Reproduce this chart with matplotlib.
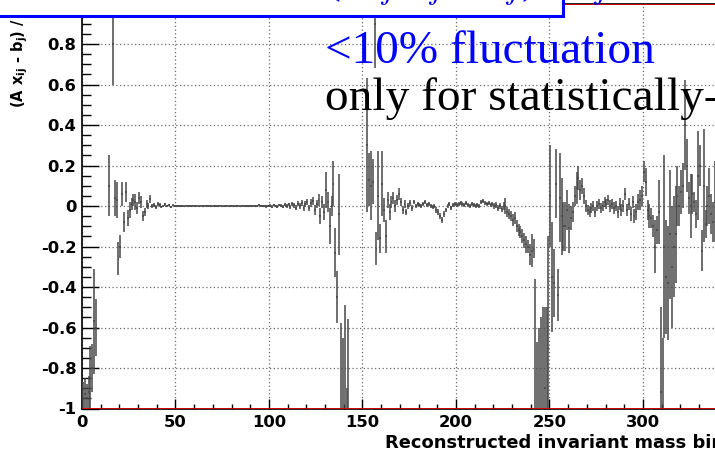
import numpy as np
import matplotlib
matplotlib.use("Agg")
import matplotlib.pyplot as plt
from matplotlib.patches import Rectangle
from matplotlib.ticker import MultipleLocator, FuncFormatter

nan = float("nan")

# (A x - b) residual for every reconstructed mass bin
residuals = [
    -0.95, -0.93, -0.95, -0.92, -0.85, -0.80, -0.57, -0.60, nan, nan,          # 0
    nan, nan, nan, nan, 0.10, nan, 0.80, 0.04, 0.03, -0.26,                    # 10
    -0.20, 0.06, -0.08, 0.07, -0.06, -0.02, 0.01, 0.03, 0.02, -0.01,           # 20
    0.04, 0.02, -0.05, -0.03, 0.01, 0.00, 0.035, 0.00, 0.005, -0.005,          # 30
    0.010, 0.005, -0.005, 0.000, 0.008, 0.000, 0.006, -0.004, 0.003, 0.000,    # 40
    0.002, -0.001, 0.001, 0.000, -0.002, 0.001, 0.002, 0.000, -0.001, 0.001,   # 50
    0.000, 0.001, -0.001, 0.002, 0.000, -0.002, 0.001, 0.000, 0.001, -0.001,   # 60
    0.001, 0.000, -0.002, 0.001, 0.002, -0.001, 0.000, 0.001, -0.001, 0.000,   # 70
    0.002, -0.001, 0.000, 0.001, -0.002, 0.000, 0.002, -0.001, 0.001, 0.000,   # 80
    -0.001, 0.002, 0.000, -0.002, 0.003, 0.000, -0.001, 0.002, -0.002, 0.001,  # 90
    0.002, -0.003, 0.004, 0.000, -0.004, 0.005, 0.002, -0.003, 0.006, 0.001,   # 100
    0.008, -0.004, 0.010, 0.003, -0.008, 0.012, 0.000, 0.015, -0.010, 0.008,   # 110
    0.020, -0.012, 0.015, 0.025, -0.020, 0.010, 0.030, -0.050, 0.020, -0.030,  # 120
    0.08, 0.02, -0.10, 0.00, 0.11, -0.23, -0.45, -0.04, -1.30, -1.15,          # 130
    -1.20, -1.30, -1.25, nan, nan, nan, nan, nan, nan, nan,                    # 140
    nan, nan, 0.30, 0.13, 0.10, 0.12, 0.90, -0.21, 0.05, -0.16,                # 150
    0.11, -0.02, -0.15, 0.03, -0.03, 0.02, 0.04, 0.00, 0.03, 0.06,             # 160
    0.02, -0.02, 0.01, -0.03, 0.00, 0.015, -0.01, 0.02, 0.00, 0.01,            # 170
    0.005, 0.000, 0.010, 0.020, 0.005, 0.010, 0.000, -0.005, 0.000, -0.020,    # 180
    -0.03, -0.05, -0.07, -0.04, -0.02, 0.00, 0.01, -0.01, 0.005, 0.01,         # 190
    0.005, 0.010, 0.015, 0.010, 0.005, 0.015, 0.005, 0.000, 0.010, 0.005,      # 200
    0.000, 0.005, 0.000, 0.020, 0.025, 0.015, 0.010, 0.015, 0.005, 0.010,      # 210
    0.000, 0.005, -0.010, 0.000, -0.015, 0.000, 0.000, -0.030, -0.040, -0.050, # 220
    -0.07, -0.06, -0.10, -0.12, -0.13, -0.15, -0.17, -0.19, -0.20, -0.24,      # 230
    -0.22, -0.21, -1.20, -1.30, -1.20, -1.25, -1.10, -0.90, -1.00, -0.70,      # 240
    0.05, -0.35, -0.38, 0.11, -0.44, 0.04, -0.05, -0.10, -0.10, -0.02,         # 250
    -0.11, -0.06, -0.03, 0.05, 0.09, 0.14, 0.08, 0.10, 0.05, 0.00,             # 260
    -0.02, -0.03, -0.01, 0.00, -0.03, 0.00, 0.01, -0.01, 0.00, 0.02,           # 270
    0.01, 0.03, 0.00, 0.01, -0.01, 0.00, -0.03, 0.01, -0.02, 0.00,             # 280
    0.06, -0.02, 0.01, -0.04, 0.02, -0.05, -0.03, 0.02, 0.03, 0.05,            # 290
    0.17, 0.12, -0.02, -0.05, -0.06, -0.10, -0.20, -0.12, -0.03, -0.92,        # 300
    -1.15, -0.20, -0.35, -0.38, -0.14, -0.30, -0.20, -0.14, 0.05, 0.00,        # 310
    0.07, 0.10, 0.40, 0.20, 0.04, 0.00, 0.06, 0.02, -0.04, 0.15,               # 320
    0.20, -0.22, 0.10, -0.09, 0.00, 0.05, -0.04, -0.08, 0.02,                  # 330
]

errors = [
    0.08, 0.08, 0.07, 0.08, 0.16, 0.12, 0.26, 0.14, nan, nan,
    nan, nan, nan, nan, 0.15, nan, 0.20, 0.09, 0.09, 0.08,
    0.055, 0.06, 0.05, 0.05, 0.04, 0.04, 0.03, 0.03, 0.04, 0.03,
    0.03, 0.03, 0.025, 0.02, 0.02, 0.015, 0.02, 0.012, 0.01, 0.01,
    0.008, 0.008, 0.007, 0.006, 0.006, 0.005, 0.005, 0.005, 0.004, 0.004,
    0.004, 0.004, 0.004, 0.003, 0.003, 0.003, 0.003, 0.003, 0.003, 0.003,
    0.003, 0.003, 0.003, 0.003, 0.003, 0.003, 0.003, 0.003, 0.003, 0.003,
    0.003, 0.003, 0.003, 0.003, 0.003, 0.003, 0.003, 0.003, 0.003, 0.003,
    0.003, 0.003, 0.003, 0.003, 0.004, 0.004, 0.004, 0.004, 0.004, 0.004,
    0.004, 0.004, 0.005, 0.005, 0.005, 0.005, 0.005, 0.005, 0.006, 0.006,
    0.006, 0.006, 0.006, 0.007, 0.007, 0.007, 0.008, 0.008, 0.008, 0.009,
    0.009, 0.010, 0.010, 0.011, 0.012, 0.012, 0.013, 0.014, 0.015, 0.015,
    0.015, 0.015, 0.020, 0.020, 0.025, 0.020, 0.030, 0.040, 0.030, 0.040,
    0.09, 0.05, 0.09, 0.05, 0.11, 0.12, 0.13, 0.20, 0.72, 0.50,
    0.71, 0.40, 0.69, nan, nan, nan, nan, nan, nan, nan,
    nan, nan, 0.33, 0.13, 0.17, 0.11, 0.22, 0.08, 0.22, 0.07,
    0.16, 0.06, 0.08, 0.04, 0.04, 0.03, 0.03, 0.03, 0.025, 0.03,
    0.02, 0.02, 0.02, 0.015, 0.015, 0.015, 0.015, 0.012, 0.012, 0.012,
    0.012, 0.012, 0.012, 0.012, 0.012, 0.012, 0.012, 0.012, 0.012, 0.015,
    0.015, 0.015, 0.015, 0.015, 0.012, 0.012, 0.012, 0.012, 0.012, 0.012,
    0.010, 0.010, 0.010, 0.010, 0.010, 0.010, 0.010, 0.010, 0.010, 0.010,
    0.012, 0.012, 0.012, 0.012, 0.012, 0.012, 0.012, 0.012, 0.012, 0.012,
    0.015, 0.015, 0.015, 0.015, 0.015, 0.02, 0.04, 0.025, 0.025, 0.025,
    0.03, 0.03, 0.03, 0.03, 0.03, 0.035, 0.035, 0.04, 0.03, 0.05,
    0.08, 0.045, 0.84, 0.63, 0.60, 0.70, 0.60, 0.40, 0.50, 0.55,
    0.25, 0.27, 0.17, 0.17, 0.13, 0.22, 0.19, 0.12, 0.12, 0.10,
    0.12, 0.06, 0.05, 0.05, 0.08, 0.06, 0.05, 0.04, 0.04, 0.03,
    0.025, 0.025, 0.025, 0.025, 0.025, 0.025, 0.025, 0.025, 0.025, 0.025,
    0.025, 0.025, 0.03, 0.025, 0.03, 0.025, 0.03, 0.03, 0.03, 0.03,
    0.03, 0.03, 0.03, 0.035, 0.03, 0.035, 0.04, 0.04, 0.05, 0.05,
    0.05, 0.07, 0.05, 0.06, 0.05, 0.055, 0.13, 0.07, 0.16, 0.42,
    0.50, 0.45, 0.28, 0.28, 0.32, 0.30, 0.25, 0.24, 0.15, 0.10,
    0.11, 0.11, 0.22, 0.13, 0.08, 0.16, 0.10, 0.05, 0.07, 0.22,
    0.10, 0.10, 0.28, 0.07, 0.10, 0.14, 0.10, 0.10, 0.20,
]

x_ticks = [0, 50, 100, 150, 200, 250, 300]
y_ticks = [-1, -0.8, -0.6, -0.4, -0.2, 0, 0.2, 0.4, 0.6, 0.8]

W, H = 715, 455
SANS = "DejaVu Sans"
SERIF = "Liberation Serif"
LABEL_SIZE = 11.8

plt.rcParams["font.family"] = SANS
plt.rcParams["axes.unicode_minus"] = False
plt.rcParams["mathtext.fontset"] = "custom"
plt.rcParams["mathtext.rm"] = "DejaVu Sans:bold"
plt.rcParams["mathtext.it"] = "DejaVu Sans:bold"
plt.rcParams["mathtext.bf"] = "DejaVu Sans:bold"


def fx(px):
    return px / W


def fy(py):
    return 1 - py / H


fig = plt.figure(figsize=(W / 100, H / 100), dpi=100)
ax = fig.add_axes([fx(82), fy(408.5), 1 - fx(82), (408.5 - 3.5) / H])

centers = np.arange(len(residuals)) + 0.5
ax.errorbar(centers, residuals, yerr=errors, xerr=0.5, fmt="none",
            ecolor="#474747", elinewidth=1.1, zorder=3)

ax.axhline(-1, color="#e00000", lw=1.3, zorder=4)
ax.axhline(1, color="#e00000", lw=1.3, zorder=4)

ax.set_xlim(0, (W - 82) / 1.8697)
ax.set_ylim(-1, 1)
ax.set_xticks(x_ticks)
ax.set_yticks(y_ticks)
ax.xaxis.set_minor_locator(MultipleLocator(10))
ax.yaxis.set_minor_locator(MultipleLocator(0.05))
ax.yaxis.set_major_formatter(FuncFormatter(lambda v, p: "%g" % round(v, 2)))
ax.grid(True, which="major", color="#6a6a6a", linestyle=(0, (1, 2)), lw=0.9)

ax.tick_params(axis="y", which="major", direction="in", length=12, width=1, pad=4)
ax.tick_params(axis="y", which="minor", direction="in", length=6.5, width=1)
ax.tick_params(axis="x", which="major", direction="in", length=7, width=1, pad=5)
ax.tick_params(axis="x", which="minor", direction="in", length=3.6, width=1)
for lab in ax.get_xticklabels() + ax.get_yticklabels():
    lab.set_fontweight("bold")
    lab.set_fontsize(LABEL_SIZE)

ax.spines["right"].set_visible(False)
for s in ["left", "bottom", "top"]:
    ax.spines[s].set_linewidth(1.2)

# axis titles, both run past the picture edge like in the original
fig.text(fx(385), fy(448), "Reconstructed invariant mass bin", fontsize=12.9,
         fontweight="bold", va="baseline", ha="left")
fig.text(fx(20), fy(108), r"(A x$_{\mathrm{ij}}$ - b$_{\mathrm{j}}$) / $\sigma_{\mathrm{j}}$",
         fontsize=10.5, fontweight="bold", rotation=90, ha="center", va="bottom")

# blue title box, mostly cut off at the top edge
fig.patches.append(Rectangle((fx(-10), fy(16)), fx(573), 0.2, transform=fig.transFigure,
                             facecolor="white", edgecolor="#0000ff", lw=2.2, zorder=5))
fig.text(fx(298), fy(-7), r"<(A$_{ij}$ x$_j$ - b$_j$) / $\sigma_j$ >  = 0",
         family=SERIF, fontweight="bold", fontsize=34, color="#0000ff",
         va="baseline", ha="left", zorder=6, math_fontfamily="stix")

fig.text(fx(325), fy(63), "<10% fluctuation", family=SERIF, fontsize=34,
         color="#0000ff", va="baseline", ha="left", zorder=6)
fig.text(fx(325), fy(110), "only for statistically-significant bins", family=SERIF,
         fontsize=34, color="black", va="baseline", ha="left", zorder=6)

fig.savefig("out.png", dpi=100)
